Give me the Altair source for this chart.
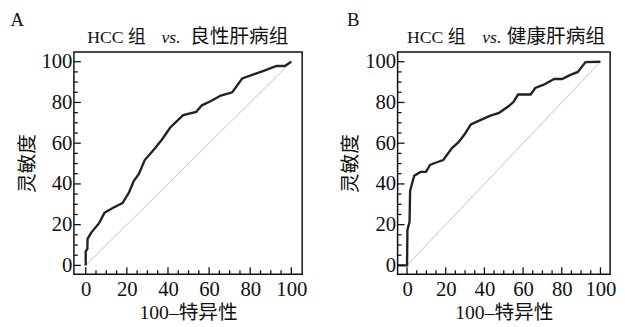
import altair as alt
import pandas as pd

# ROC curve A: HCC vs benign liver disease (x = 100-specificity, y = sensitivity)
a_x = [0, 0, 0.8, 0.9, 2.7, 6.4, 9.1, 13.1, 17.9, 21.1, 23.4, 25.8, 28.7, 33.8, 37.0,
       41.0, 47.4, 53.7, 56.5, 60.9, 65.7, 71.3, 76.1, 86.5, 92.8, 96.8, 99.2, 100]
a_y = [0, 6.9, 8.1, 13.0, 16.1, 20.6, 25.8, 28.2, 30.6, 35.9, 41.5, 44.8, 51.7, 57.6, 61.7,
       67.6, 73.8, 75.4, 78.6, 80.7, 83.4, 85.0, 91.8, 95.5, 97.9, 97.9, 99.5, 100]

# ROC curve B: HCC vs healthy
b_x = [-5, 0, 0.2, 1.3, 1.6, 3.7, 7.0, 9.8, 11.9, 14.7, 18.7, 23.2, 26.5, 29.8, 33.0,
       37.9, 42.8, 47.6, 52.5, 55.0, 57.4, 63.9, 66.3, 70.4, 76.1, 80.2, 84.2, 88.3, 92.3, 100]
b_y = [0, 0, 17.4, 21.4, 36.7, 44.0, 45.9, 45.9, 49.3, 50.4, 51.7, 57.6, 60.4, 64.4, 69.2,
       71.3, 73.4, 74.9, 78.1, 80.2, 83.9, 83.9, 87.1, 88.6, 91.5, 91.5, 93.4, 95.0, 99.8, 100]

diag_x = [0, 100]
diag_y = [0, 100]

major_ticks = [0, 20, 40, 60, 80, 100]
minor_ticks = [5, 10, 15, 25, 30, 35, 45, 50, 55, 65, 70, 75, 85, 90, 95]

SERIF = "Liberation Serif, Times New Roman, Noto Sans CJK SC, serif"


def panel(cx, cy, t1, t3, letter, w, h, xdom, ydom, tpos, letter_dx):
    xs = alt.Scale(domain=xdom, nice=False, zero=False)
    ys = alt.Scale(domain=ydom, nice=False, zero=False)
    xaxis = alt.Axis(values=major_ticks, title="100–特异性", ticks=False, tickSize=0,
                     domain=False, grid=False, labelFont=SERIF, labelFontSize=21,
                     labelColor="#111", labelPadding=5, titleFont=SERIF, titleFontSize=20,
                     titleFontWeight="normal", titleColor="#111", titlePadding=3)
    yaxis = alt.Axis(values=major_ticks, title="灵敏度", ticks=False, tickSize=0,
                     domain=False, grid=False, labelFont=SERIF, labelFontSize=21,
                     labelColor="#111", labelPadding=2, titleFont=SERIF, titleFontSize=20,
                     titleFontWeight="normal", titleColor="#111", titlePadding=4)

    df = pd.DataFrame({"x": cx, "y": cy, "o": list(range(len(cx)))})
    curve = alt.Chart(df).mark_line(color="#222", strokeWidth=2.4, clip=True).encode(
        x=alt.X("x:Q", scale=xs, axis=xaxis),
        y=alt.Y("y:Q", scale=ys, axis=yaxis),
        order="o:Q",
    )
    diag = alt.Chart(pd.DataFrame({"x": diag_x, "y": diag_y})).mark_line(
        color="#c4c4c4", strokeWidth=1).encode(
        x=alt.X("x:Q", scale=xs, axis=xaxis), y=alt.Y("y:Q", scale=ys, axis=yaxis))

    layers = [diag, curve]
    for vals, ln in ((major_ticks, 7), (minor_ticks, 4)):
        tdf = pd.DataFrame({"x": vals, "y": vals})
        layers.append(alt.Chart(tdf).mark_rule(color="#111", strokeWidth=1.3).encode(
            x=alt.X("x:Q", scale=xs, axis=xaxis), y=alt.value(h), y2=alt.value(h - ln)))
        layers.append(alt.Chart(tdf).mark_rule(color="#111", strokeWidth=1.3).encode(
            y=alt.Y("y:Q", scale=ys, axis=yaxis), x=alt.value(0), x2=alt.value(ln)))

    # plot frame
    layers.append(alt.Chart(pd.DataFrame({"x": [0]})).mark_rect(
        fill=None, stroke="#111", strokeWidth=1.5).encode(
        x=alt.value(0), x2=alt.value(w), y=alt.value(0), y2=alt.value(h)))

    # title pieces (plain, italic "vs.", plain)
    pieces = [(t1, "right", tpos[0], "normal", 18), ("vs.", "left", tpos[1], "italic", 18),
              (t3, "left", tpos[2], "normal", 20)]
    for txt, al, px, sty, fs in pieces:
        layers.append(alt.Chart(pd.DataFrame({"t": [txt]})).mark_text(
            align=al, baseline="alphabetic", font=SERIF, fontSize=fs, fontStyle=sty,
            color="#111").encode(text="t:N", x=alt.value(px), y=alt.value(-9)))

    return alt.layer(*layers).properties(
        width=w, height=h,
        title=alt.TitleParams(letter, font=SERIF, fontSize=19, fontWeight="normal",
                              color="#111", offset=-3, anchor="start", frame="bounds",
                              dx=letter_dx),
    )


pa = panel(a_x, a_y, "HCC 组", "良性肝病组", "A", 232, 226, [-5.74, 105.26], [-4.35, 104.83],
           (73, 89, 118), -7)
pb = panel(b_x, b_y, "HCC 组", "健康肝病组", "B", 216, 226, [-4.88, 105.0], [-4.35, 104.83],
           (69, 86, 111), 6)

chart = alt.hconcat(pa, pb, spacing=33).properties(
    padding={"left": 2, "top": 0, "right": 0, "bottom": 0}
).configure(
    background="white",
    font=SERIF,
    view=alt.ViewConfig(stroke="transparent"),
    axis=alt.AxisConfig(labelFont=SERIF, titleFont=SERIF),
)

chart.save("out.html", embed_options={"renderer": "svg", "actions": False})
